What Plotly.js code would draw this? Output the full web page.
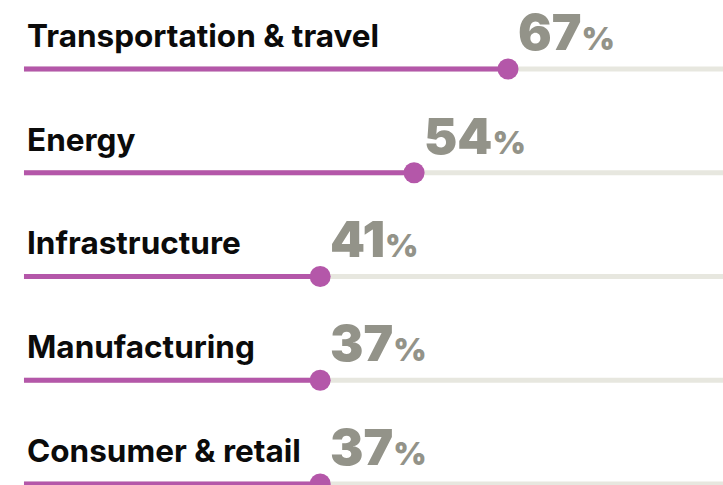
<!DOCTYPE html>
<html>
<head>
<meta charset="utf-8">
<script src="https://cdn.plot.ly/plotly-3.0.1.min.js"></script>
<style>
  html, body { margin: 0; padding: 0; background: #fff; }
  #chart { width: 723px; height: 485px; }
</style>
</head>
<body>
<div id="chart"></div>
<script>
var sectors = ['Transportation & travel', 'Energy', 'Infrastructure', 'Manufacturing', 'Consumer & retail'];
var shares = [67, 54, 41, 37, 37];
// where the dots sit in the source graphic (the two 37% rows are drawn at the 41% spot)
var dotAt = [67, 54, 41, 41, 41];

var purple = '#b457a9';
var track = '#e7e7df';
var grey = '#939389';

// background tracks, one segment per row
var trackX = [], trackY = [], fillX = [], fillY = [];
sectors.forEach(function (s, i) {
  trackX.push(0, 100, null);
  trackY.push(s, s, null);
  fillX.push(0, dotAt[i], null);
  fillY.push(s, s, null);
});

var data = [
  {
    x: trackX, y: trackY, mode: 'lines', type: 'scatter',
    line: { color: track, width: 5 }, hoverinfo: 'skip', connectgaps: false
  },
  {
    x: fillX, y: fillY, mode: 'lines', type: 'scatter',
    line: { color: purple, width: 5 }, hoverinfo: 'skip', connectgaps: false
  },
  {
    x: dotAt, y: sectors, mode: 'markers', type: 'scatter',
    marker: { color: purple, size: 21 }, hoverinfo: 'skip'
  }
];

var annotations = [];
sectors.forEach(function (s, i) {
  annotations.push({
    x: 0, y: s, xref: 'x', yref: 'y', text: s,
    xanchor: 'left', yanchor: 'bottom', xshift: 2, yshift: 13,
    showarrow: false, borderpad: 0,
    font: { family: 'Inter, "Liberation Sans", Arial, sans-serif', size: 31.5, color: '#0b0b0b', weight: 700 }
  });
  annotations.push({
    x: dotAt[i], y: s, xref: 'x', yref: 'y',
    text: shares[i] + '<span style="font-size:32px">%</span>',
    xanchor: 'left', yanchor: 'bottom', xshift: 9, yshift: 6,
    showarrow: false, borderpad: 0,
    font: { family: 'Inter, "Liberation Sans", Arial, sans-serif', size: 50, color: grey, weight: 900 }
  });
});

var layout = {
  width: 723, height: 485,
  margin: { l: 0, r: 0, t: 0, b: 0 },
  paper_bgcolor: '#ffffff', plot_bgcolor: '#ffffff',
  showlegend: false,
  xaxis: { range: [-3.32, 96.76], showgrid: false, zeroline: false, showticklabels: false, showline: false, fixedrange: true },
  yaxis: { type: 'category', categoryorder: 'array', categoryarray: sectors, range: [4.01, -0.665],
           showgrid: false, zeroline: false, showticklabels: false, showline: false, fixedrange: true },
  annotations: annotations
};

Plotly.newPlot('chart', data, layout, { displayModeBar: false, staticPlot: true });
</script>
</body>
</html>
